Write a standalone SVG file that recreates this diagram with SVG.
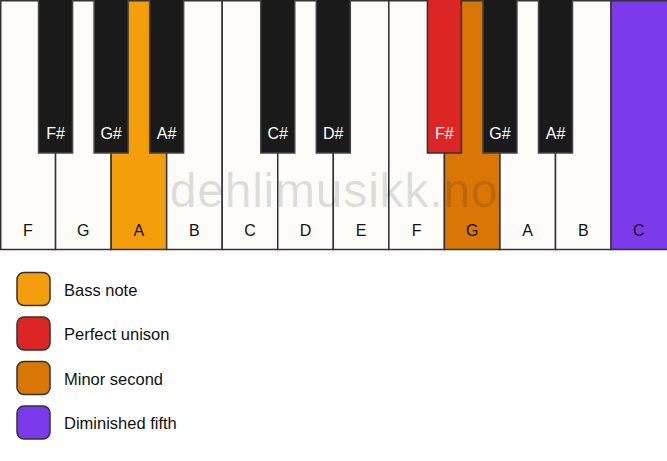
<svg xmlns="http://www.w3.org/2000/svg" width="667" height="461" viewBox="0 0 667 461">
<style>
.w{fill:#fdfcf9;stroke:#333;stroke-width:1.5}
.b{fill:#1a1a1a;stroke:#444;stroke-width:1.5}
.lbl{font-family:"Liberation Sans",Arial,sans-serif;font-size:16px;text-anchor:middle}
.wl{fill:#111}
.bl{fill:#fff}
.sw{stroke:#333;stroke-width:1.5}
.lt{font-family:"Liberation Sans",Arial,sans-serif;font-size:16.5px;fill:#111}
.wm{font-family:"Liberation Sans",Arial,sans-serif;font-size:48px;fill:#000;fill-opacity:0.13;text-anchor:middle;letter-spacing:0.8px}
</style>
<rect width="667" height="461" fill="#ffffff"/>
<g id="white-keys">
<g id="key-F1"><rect class="w" x="0.75" y="0.75" width="54.8" height="248.75"/><text class="lbl wl" x="27.8" y="236">F</text></g>
<g id="key-G1"><rect class="w" x="55.55" y="0.75" width="55.55" height="248.75"/><text class="lbl wl" x="83.3" y="236">G</text></g>
<g id="key-A1"><rect class="w" x="111.1" y="0.75" width="55.55" height="248.75" style="fill:#f59e0b"/><text class="lbl wl" x="138.9" y="236">A</text></g>
<g id="key-B1"><rect class="w" x="166.65" y="0.75" width="55.55" height="248.75"/><text class="lbl wl" x="194.4" y="236">B</text></g>
<g id="key-C1"><rect class="w" x="222.2" y="0.75" width="55.55" height="248.75"/><text class="lbl wl" x="250" y="236">C</text></g>
<g id="key-D1"><rect class="w" x="277.75" y="0.75" width="55.55" height="248.75"/><text class="lbl wl" x="305.5" y="236">D</text></g>
<g id="key-E1"><rect class="w" x="333.3" y="0.75" width="55.55" height="248.75"/><text class="lbl wl" x="361.1" y="236">E</text></g>
<g id="key-F2"><rect class="w" x="388.85" y="0.75" width="55.55" height="248.75"/><text class="lbl wl" x="416.6" y="236">F</text></g>
<g id="key-G2"><rect class="w" x="444.4" y="0.75" width="55.55" height="248.75" style="fill:#d97706"/><text class="lbl wl" x="472.2" y="236">G</text></g>
<g id="key-A2"><rect class="w" x="499.95" y="0.75" width="55.55" height="248.75"/><text class="lbl wl" x="527.7" y="236">A</text></g>
<g id="key-B2"><rect class="w" x="555.5" y="0.75" width="55.55" height="248.75"/><text class="lbl wl" x="583.3" y="236">B</text></g>
<g id="key-C2"><rect class="w" x="611.05" y="0.75" width="57" height="248.75" style="fill:#7c3aed"/><text class="lbl wl" x="638.8" y="236">C</text></g>
</g>
<text class="wm" x="334" y="207">dehlimusikk.no</text>
<g id="black-keys">
<g id="key-Fs1"><rect class="b" x="38.55" y="-2" width="34" height="155"/><text class="lbl bl" x="55.55" y="138.7">F#</text></g>
<g id="key-Gs1"><rect class="b" x="94.1" y="-2" width="34" height="155"/><text class="lbl bl" x="111.1" y="138.7">G#</text></g>
<g id="key-As1"><rect class="b" x="149.65" y="-2" width="34" height="155"/><text class="lbl bl" x="166.65" y="138.7">A#</text></g>
<g id="key-Cs1"><rect class="b" x="260.75" y="-2" width="34" height="155"/><text class="lbl bl" x="277.75" y="138.7">C#</text></g>
<g id="key-Ds1"><rect class="b" x="316.3" y="-2" width="34" height="155"/><text class="lbl bl" x="333.3" y="138.7">D#</text></g>
<g id="key-Fs2"><rect class="b" x="427.4" y="-2" width="34" height="155" style="fill:#dc2626;stroke:#333"/><text class="lbl bl" x="444.4" y="138.7">F#</text></g>
<g id="key-Gs2"><rect class="b" x="482.95" y="-2" width="34" height="155"/><text class="lbl bl" x="499.95" y="138.7">G#</text></g>
<g id="key-As2"><rect class="b" x="538.5" y="-2" width="34" height="155"/><text class="lbl bl" x="555.5" y="138.7">A#</text></g>
</g>
<g id="legend">
<g id="legend-bass"><rect class="sw" x="17" y="272.5" width="33" height="33" rx="7" fill="#f59e0b"/><text class="lt" x="64" y="295.5">Bass note</text></g>
<g id="legend-unison"><rect class="sw" x="17" y="317" width="33" height="33" rx="7" fill="#dc2626"/><text class="lt" x="64" y="340">Perfect unison</text></g>
<g id="legend-minor2"><rect class="sw" x="17" y="361.5" width="33" height="33" rx="7" fill="#d97706"/><text class="lt" x="64" y="384.5">Minor second</text></g>
<g id="legend-dim5"><rect class="sw" x="17" y="406" width="33" height="33" rx="7" fill="#7c3aed"/><text class="lt" x="64" y="429">Diminished fifth</text></g>
</g>
<g id="connectors"/>
</svg>
